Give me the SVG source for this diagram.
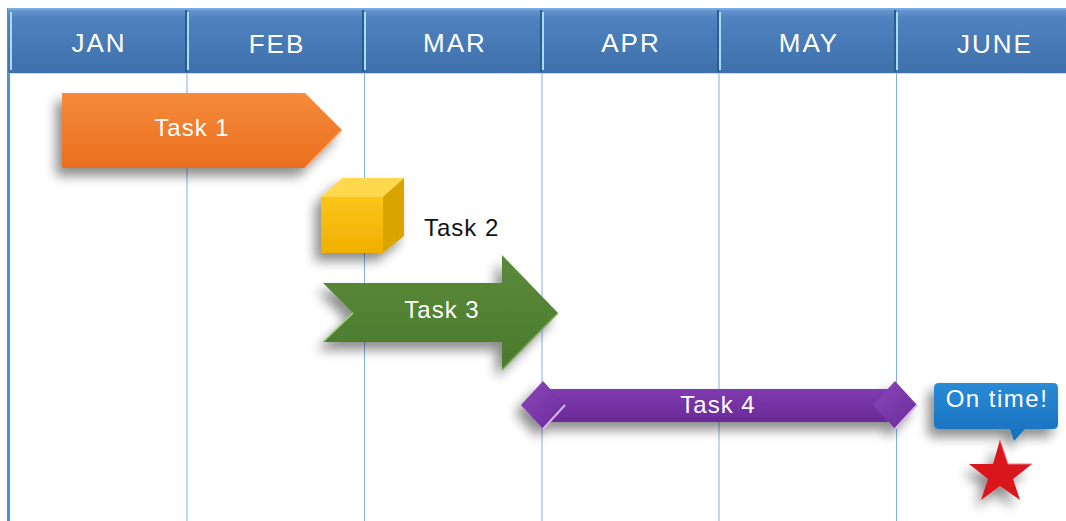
<svg xmlns="http://www.w3.org/2000/svg" width="1066" height="521" viewBox="0 0 1066 521">
<defs>
<linearGradient id="hdr" x1="0" y1="0" x2="0" y2="1">
<stop offset="0" stop-color="#6a9bd3"/><stop offset="0.15" stop-color="#4f82bf"/><stop offset="1" stop-color="#3f70ac"/>
</linearGradient>
<linearGradient id="org" x1="0" y1="0" x2="0" y2="1">
<stop offset="0" stop-color="#f58b3c"/><stop offset="1" stop-color="#ea6f1e"/>
</linearGradient>
<linearGradient id="grn" x1="0" y1="0" x2="0" y2="1">
<stop offset="0" stop-color="#5a8a3a"/><stop offset="1" stop-color="#4a7a2c"/>
</linearGradient>
<linearGradient id="pur" x1="0" y1="0" x2="0" y2="1">
<stop offset="0" stop-color="#7f3bb0"/><stop offset="1" stop-color="#6a2a98"/>
</linearGradient>
<linearGradient id="dia" x1="0" y1="0" x2="1" y2="1">
<stop offset="0" stop-color="#8a48bb"/><stop offset="1" stop-color="#6a2a98"/>
</linearGradient>
<linearGradient id="cubef" x1="0" y1="0" x2="0" y2="1">
<stop offset="0" stop-color="#fcc419"/><stop offset="1" stop-color="#f0b000"/>
</linearGradient>
<linearGradient id="blu" x1="0" y1="0" x2="0" y2="1">
<stop offset="0" stop-color="#2a8ad6"/><stop offset="1" stop-color="#1570bd"/>
</linearGradient>
<filter id="sh" x="-20%" y="-30%" width="140%" height="170%">
<feGaussianBlur in="SourceAlpha" stdDeviation="6"/>
<feOffset dx="-6" dy="8" result="b"/>
<feComponentTransfer><feFuncA type="linear" slope="0.45"/></feComponentTransfer>
<feMerge><feMergeNode/><feMergeNode in="SourceGraphic"/></feMerge>
</filter>
<style>
.hd{font-family:"Liberation Sans","DejaVu Sans",sans-serif;font-size:26px;fill:#ffffff;text-anchor:middle;letter-spacing:2px}
.tk{font-family:"Liberation Sans","DejaVu Sans",sans-serif;font-size:24px;fill:#ffffff;text-anchor:middle;letter-spacing:1px}
.grid{stroke:#7eb0e8;stroke-width:1}
.sep{stroke:#2f5a8c;stroke-width:2}
.hl{stroke:#a8dcf5;stroke-width:2}
</style>
</defs>
<rect width="1066" height="521" fill="#ffffff"/>
<g id="grid">
<line class="grid" x1="187" y1="73" x2="187" y2="521"/>
<line class="grid" x1="364.5" y1="73" x2="364.5" y2="521"/>
<line class="grid" x1="542" y1="73" x2="542" y2="521"/>
<line class="grid" x1="719" y1="73" x2="719" y2="521"/>
<line class="grid" x1="896.5" y1="73" x2="896.5" y2="521"/>
<line x1="8.5" y1="8" x2="8.5" y2="521" stroke="#4f8fd6" stroke-width="3"/>
<line x1="8" y1="73" x2="1066" y2="73" stroke="#8db9ea" stroke-width="1"/>
</g>
<g id="header">
<rect x="8" y="8" width="1058" height="65" fill="url(#hdr)"/>
<line x1="8" y1="9" x2="1066" y2="9" stroke="#7aaae0" stroke-width="2"/>
<g id="dividers">
<line class="sep" x1="186" y1="10" x2="186" y2="72"/><line class="hl" x1="188" y1="12" x2="188" y2="70"/>
<line class="sep" x1="363" y1="10" x2="363" y2="72"/><line class="hl" x1="365" y1="12" x2="365" y2="70"/>
<line class="sep" x1="541" y1="10" x2="541" y2="72"/><line class="hl" x1="543" y1="12" x2="543" y2="70"/>
<line class="sep" x1="718" y1="10" x2="718" y2="72"/><line class="hl" x1="720" y1="12" x2="720" y2="70"/>
<line class="sep" x1="895" y1="10" x2="895" y2="72"/><line class="hl" x1="897" y1="12" x2="897" y2="70"/>
<line class="hl" x1="11" y1="12" x2="11" y2="70"/>
</g>
<text class="hd" x="99" y="52">JAN</text>
<text class="hd" x="277" y="53">FEB</text>
<text class="hd" x="455" y="52">MAR</text>
<text class="hd" x="631" y="52">APR</text>
<text class="hd" x="809" y="52">MAY</text>
<text class="hd" x="995" y="53">JUNE</text>
</g>
<g id="task1">
<polygon points="62,93 305,93 342,130 305,168 62,168" fill="url(#org)" filter="url(#sh)"/>
<polyline points="305,168 342,130" fill="none" stroke="#f9b27a" stroke-width="1.5"/>
<text class="tk" x="192" y="136">Task 1</text>
</g>
<g id="task2">
<g filter="url(#sh)">
<polygon points="321,197 383,197 404,178 342,178" fill="#ffd84d"/>
<polygon points="383,197 404,178 404,236 383,253" fill="#d9a300"/>
<rect x="321" y="197" width="62" height="56" fill="url(#cubef)"/>
</g>
<text x="424" y="236" font-family="Liberation Sans, DejaVu Sans, sans-serif" font-size="24" letter-spacing="1" fill="#111111">Task 2</text>
</g>
<g id="task3">
<polygon points="323,283 502,283 502,255 558,313 502,370 502,342 323,342 353,313" fill="url(#grn)" filter="url(#sh)"/>
<polyline points="323,342 353,313" fill="none" stroke="#a6cf87" stroke-width="1.5"/>
<polyline points="502,370 558,313" fill="none" stroke="#7fb05a" stroke-width="1.5"/>
<text class="tk" x="442" y="318">Task 3</text>
</g>
<g id="task4">
<g filter="url(#sh)">
<rect x="543" y="389" width="352" height="33" fill="url(#pur)"/>
<polygon points="543,381 565,405 543,429 521,405" fill="url(#dia)"/>
<polygon points="895,381 917,405 895,429 873,405" fill="url(#dia)"/>
</g>
<polyline points="543,429 565,405" fill="none" stroke="#d9b6ef" stroke-width="2"/>
<polyline points="895,429 917,405" fill="none" stroke="#d9b6ef" stroke-width="2"/>
<text class="tk" x="718" y="413">Task 4</text>
</g>
<g id="callout">
<path d="M939,383 H1053 Q1058,383 1058,388 V424 Q1058,429 1053,429 H1025 L1014,441 L1010,429 H939 Q934,429 934,424 V388 Q934,383 939,383 Z" fill="url(#blu)" filter="url(#sh)"/>
<text class="tk" x="997" y="407" style="letter-spacing:1.5px">On time!</text>
</g>
<g id="star">
<polygon points="1000,440 1008,464 1032,464 1013,479 1020,500 1000,486 981,500 988,479 969,464 993,464" fill="#d8141c" filter="url(#sh)"/>
<polyline points="1000,440 1008,464 1032,464" fill="none" stroke="#f37b7f" stroke-width="1"/>
</g>
<g id="connectors"/>
</svg>
